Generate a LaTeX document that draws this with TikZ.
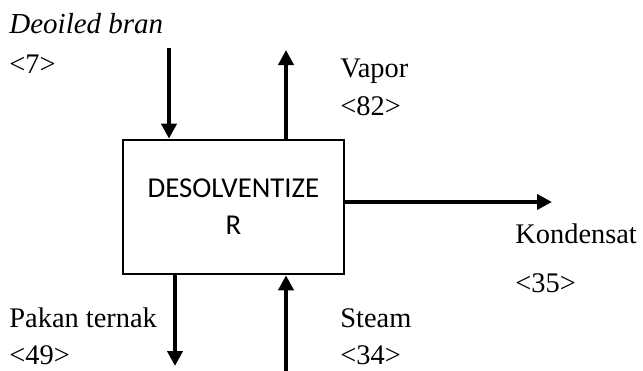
\documentclass[tikz,border=0pt]{standalone}
\usepackage{fontspec}
\setmainfont{Liberation Serif}
\newfontfamily\calibrifont{Carlito}
\usetikzlibrary{arrows.meta}
\begin{document}
\begin{tikzpicture}[x=0.5pt,y=-0.5pt,
  flow/.style={line width=2pt,-{Triangle[length=7.5pt,width=7.5pt]}},
  lbl/.style={anchor=base west,inner sep=0pt,font=\fontsize{14.2}{17}\selectfont},
  unitbox/.style={draw,line width=1.3pt,minimum width=110.5pt,minimum height=67pt,inner sep=0pt,align=center,font=\calibrifont\fontsize{14.4}{18.5}\selectfont}]
\useasboundingbox (0,0) rectangle (643,370);
\node[unitbox] (des) at (233.5,207) {DESOLVENTIZE\\R};
\coordinate (inA) at (169,48);
\coordinate (outV) at (286,50);
\coordinate (outK) at (552,202);
\coordinate (outP) at (175,366);
\coordinate (inS) at (286,372);
\draw[flow] (inA) -- (inA |- des.north);
\draw[flow] (des.north -| outV) -- (outV);
\draw[flow] (des.east |- outK) -- (outK);
\draw[flow] (des.south -| outP) -- (outP);
\draw[flow] (inS) -- (des.south -| inS);
\node[lbl,font=\itshape\fontsize{14.5}{17}\selectfont] (tA) at (9,33) {Deoiled bran};
\node[lbl] (nA) at (9,73) {<7>};
\node[lbl] (tV) at (340,77) {Vapor};
\node[lbl] (nV) at (340,115) {<82>};
\node[lbl] (tK) at (515,243) {Kondensat};
\node[lbl] (nK) at (515,292) {<35>};
\node[lbl] (tP) at (9,327) {Pakan ternak};
\node[lbl] (nP) at (9,364) {<49>};
\node[lbl] (tS) at (340,327) {Steam};
\node[lbl] (nS) at (340,364) {<34>};
\end{tikzpicture}
\end{document}
